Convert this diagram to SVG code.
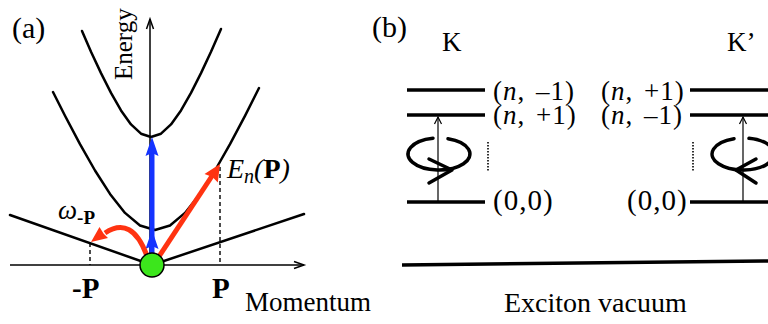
<svg xmlns="http://www.w3.org/2000/svg" width="768" height="324" viewBox="0 0 768 324">
<style>
.curve{fill:none;stroke:#000;stroke-width:2.5;stroke-linejoin:round;stroke-linecap:round}
.axis{fill:none;stroke:#000;stroke-width:1.5}
.dash{fill:none;stroke:#000;stroke-width:1.4;stroke-dasharray:4 3}
.dot{fill:none;stroke:#000;stroke-width:1.6;stroke-dasharray:1.5 1.5}
.lvl{fill:none;stroke:#000;stroke-width:3.5}
.thin{fill:none;stroke:#000;stroke-width:1.2}
.circ{fill:none;stroke:#000;stroke-width:3.5;stroke-linecap:round;stroke-linejoin:round}
.red{fill:none;stroke:#ff3311;stroke-width:5}
.redf{fill:#ff3311}
.blue{fill:none;stroke:#1433ff;stroke-width:5}
.bluef{fill:#1433ff}
</style>
<rect width="768" height="324" fill="#fff"/>

<g id="panel-a-labels">
<text x="12" y="38" font-size="30" font-family="Liberation Serif">(a)</text>
<text font-size="25" font-family="Liberation Serif" transform="translate(132,80) rotate(-90)">Energy</text>
<text x="245" y="311" font-size="27" font-family="Liberation Serif">Momentum</text>
<text x="72" y="298" font-size="29" font-weight="bold" font-family="Liberation Serif">-P</text>
<text x="212" y="298" font-size="29" font-weight="bold" font-family="Liberation Serif">P</text>
<text x="58" y="219" font-size="27" font-style="italic" font-family="Liberation Serif">ω<tspan font-size="19" font-style="normal" font-weight="bold" dy="5">-P</tspan></text>
<text x="227" y="178" font-size="28" font-style="italic" font-family="Liberation Serif">E<tspan font-size="20" dy="5">n</tspan><tspan dy="-5">(</tspan><tspan font-style="normal" font-weight="bold">P</tspan>)</text>
</g>

<g id="axes">
<line class="axis" x1="150" y1="265" x2="150" y2="19"/>
<polyline class="axis" points="146.5,29 150,19 153.5,29"/>
<line class="axis" x1="10" y1="265" x2="304" y2="265"/>
<polyline class="axis" points="294,261.5 304,265 294,268.5"/>
</g>

<g id="dispersion">
<path class="curve" d="M82,31 L91,51.7 L101,73.1 L111,92.9 L121,110.4 L131,124.4 L141,133.7 L151,137 L161,133.7 L171,124.4 L181,110.4 L191,92.9 L201,73.1 L211,51.7 L221,29"/>
<path class="curve" d="M53,92 L65,115.8 L80,144.1 L95,170.5 L110,193.9 L125,212.9 L140,225.5 L155,230 L170,225.5 L185,212.9 L200,193.9 L215,170.5 L230,144.1 L245,115.8 L259,88"/>
<path class="curve" d="M10,215 L152,265 L304,214"/>
<line class="dash" x1="90" y1="243" x2="90" y2="265"/>
<line class="dash" x1="220" y1="167" x2="220" y2="265"/>
</g>

<g id="connectors">
<line class="blue" x1="152" y1="254" x2="152" y2="150"/>
<polygon class="bluef" points="152,230 145.5,249 152,246 158.5,249"/>
<polygon class="bluef" points="152,137 145.5,156 152,153 158.5,156"/>
<line class="red" x1="158" y1="258" x2="212" y2="176"/>
<polygon class="redf" points="220,164 217.8,182.5 212.5,177 204.5,174"/>
<path class="red" d="M147,256 Q132,215 105,233"/>
<polygon class="redf" points="91,242 99.5,227 103.5,233.5 108,238"/>
</g>

<g id="exciton">
<circle cx="152" cy="265" r="12" fill="#3ce61c" stroke="#000" stroke-width="1.5"/>
</g>

<g id="panel-b-labels">
<text x="372" y="37" font-size="30" font-family="Liberation Serif">(b)</text>
<text x="442" y="51" font-size="27" font-family="Liberation Serif">K</text>
<text x="727" y="51" font-size="27" font-family="Liberation Serif">K’</text>
<text x="504" y="312" font-size="28" font-family="Liberation Serif">Exciton vacuum</text>
</g>

<g id="valley-K">
<line class="lvl" x1="407" y1="90" x2="485" y2="90"/>
<line class="lvl" x1="407" y1="115" x2="485" y2="115"/>
<line class="lvl" x1="407" y1="202" x2="485" y2="202"/>
<text x="493" y="100" font-size="27" font-family="Liberation Serif" word-spacing="3" letter-spacing="1">(<tspan font-style="italic">n</tspan>, –1)</text>
<text x="493" y="124" font-size="27" font-family="Liberation Serif" word-spacing="3" letter-spacing="1">(<tspan font-style="italic">n</tspan>, +1)</text>
<text x="493" y="210" font-size="29" font-family="Liberation Serif" letter-spacing="1">(0,0)</text>
<line class="dot" x1="488" y1="142" x2="488" y2="171"/>
<line class="thin" x1="438" y1="202" x2="438" y2="117"/>
<polyline class="thin" points="434.5,124 438,117 441.5,124"/>
<path class="circ" d="M448,138.7 A31,16 0 1,1 433,138.3"/>
<polyline class="circ" points="429,159 452,170 429,183"/>
</g>

<g id="valley-Kp">
<line class="lvl" x1="690" y1="90" x2="768" y2="90"/>
<line class="lvl" x1="690" y1="115" x2="768" y2="115"/>
<line class="lvl" x1="690" y1="202" x2="768" y2="202"/>
<text x="601" y="100" font-size="27" font-family="Liberation Serif" word-spacing="3" letter-spacing="1">(<tspan font-style="italic">n</tspan>, +1)</text>
<text x="601" y="124" font-size="27" font-family="Liberation Serif" word-spacing="3" letter-spacing="1">(<tspan font-style="italic">n</tspan>, –1)</text>
<text x="627" y="210" font-size="29" font-family="Liberation Serif" letter-spacing="1">(0,0)</text>
<line class="dot" x1="693" y1="142" x2="693" y2="171"/>
<line class="thin" x1="743" y1="202" x2="743" y2="117"/>
<polyline class="thin" points="739.5,124 743,117 746.5,124"/>
<path class="circ" d="M749,138.3 A31,16 0 1,1 734,138.7"/>
<polyline class="circ" points="756,159 736,170 756,183"/>
</g>

<g id="vacuum">
<line class="lvl" x1="402" y1="265" x2="768" y2="261"/>
</g>
</svg>
